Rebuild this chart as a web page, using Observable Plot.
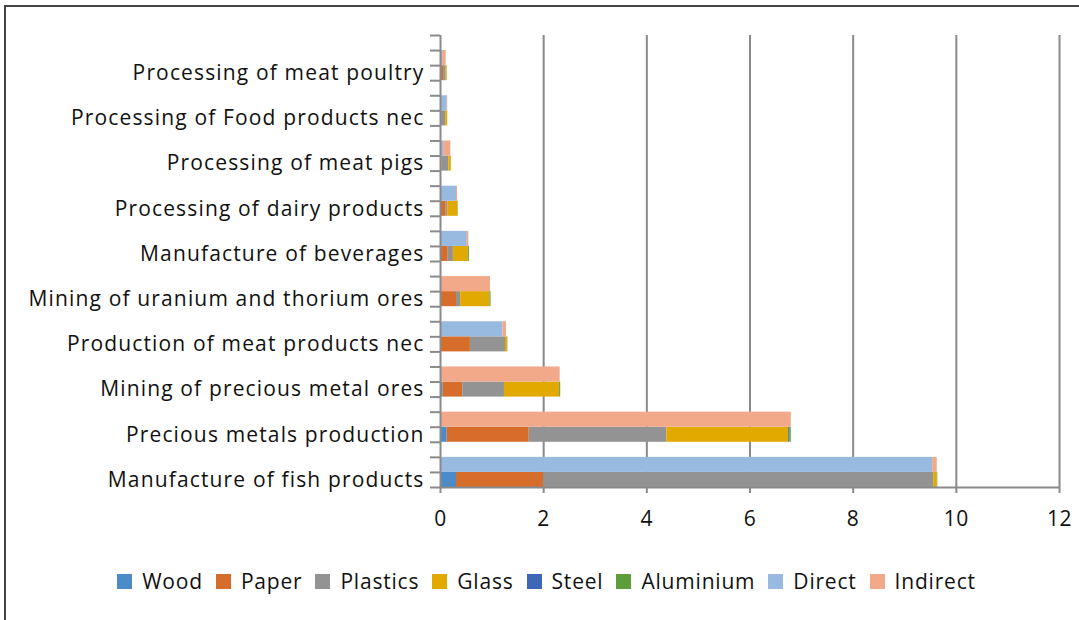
<!DOCTYPE html>
<html>
<head>
<meta charset="utf-8">
<script src="https://cdn.jsdelivr.net/npm/d3@7"></script>
<script src="https://cdn.jsdelivr.net/npm/@observablehq/plot@0.6"></script>
<style>
  html, body { margin: 0; padding: 0; background: #fff; }
  #frame { position: relative; width: 1079px; height: 620px; overflow: hidden; font-family: "Open Sans", Lato, sans-serif; }
  #border { position: absolute; left: 4px; top: 5px; width: 1100px; height: 700px; border-top: 2px solid #444; border-left: 2px solid #444; box-sizing: border-box; }
  #chart { position: absolute; left: 0; top: 0; }
  #chart g[aria-label="y-axis tick label"] text { letter-spacing: 1.15px; }
  #chart g[aria-label="x-axis tick label"] text { letter-spacing: 0.6px; }
  #legend { position: absolute; left: 0; width: 1079px; top: 567px; display: flex; justify-content: center; gap: 13px; font-size: 21px; letter-spacing: 0.8px; color: #111; padding-left: 14px; box-sizing: border-box; }
  #legend .item { display: flex; align-items: center; gap: 10px; }
  #legend .sw { width: 15px; height: 15px; display: inline-block; }
</style>
</head>
<body>
<div id="frame">
  <div id="border"></div>
  <div id="chart"></div>
  <div id="legend"></div>
</div>
<script>
// Industries, top to bottom
const industries = [
  "Processing of meat poultry",
  "Processing of Food products nec",
  "Processing of meat pigs",
  "Processing of dairy products",
  "Manufacture of beverages",
  "Mining of uranium and thorium ores",
  "Production of meat products nec",
  "Mining of precious metal ores",
  "Precious metals production",
  "Manufacture of fish products"
];
const materialSeries = ["Wood", "Paper", "Plastics", "Glass", "Steel", "Aluminium"];
const emissionSeries = ["Direct", "Indirect"];
const seriesColors = ["#4b8bc8", "#d66d2a", "#939393", "#e2aa00", "#3f67b8", "#5e9e3a", "#98b9e0", "#f1a98a"];

const wood      = [0.01, 0.00, 0.01, 0.01, 0.01, 0.00, 0.00, 0.05, 0.13, 0.31];
const paper     = [0.05, 0.01, 0.02, 0.10, 0.14, 0.31, 0.58, 0.38, 1.59, 1.69];
const plastics  = [0.05, 0.09, 0.13, 0.03, 0.10, 0.08, 0.68, 0.81, 2.67, 7.56];
const glass     = [0.02, 0.04, 0.05, 0.20, 0.29, 0.57, 0.04, 1.07, 2.36, 0.07];
const steel     = [0.00, 0.00, 0.00, 0.00, 0.00, 0.00, 0.00, 0.00, 0.02, 0.00];
const aluminium = [0.00, 0.00, 0.00, 0.005, 0.02, 0.02, 0.005, 0.02, 0.03, 0.01];
const direct    = [0.04, 0.13, 0.06, 0.31, 0.52, 0.00, 1.21, 0.00, 0.00, 9.54];
const indirect  = [0.07, 0.01, 0.14, 0.02, 0.03, 0.97, 0.07, 2.32, 6.80, 0.09];

const xTicks = [0, 2, 4, 6, 8, 10, 12];

const materialValues = [wood, paper, plastics, glass, steel, aluminium];
const emissionValues = [direct, indirect];
const allSeries = [...materialSeries, ...emissionSeries];

// Each industry takes three rows: materials (bottom), direct/indirect (middle), gap (top)
const n = industries.length;
const rows = [];
industries.forEach((name, i) => {
  const k = n - 1 - i; // 0 = bottom industry
  materialSeries.forEach((s, j) => rows.push({industry: name, series: s, value: materialValues[j][i], y1: 3 * k, y2: 3 * k + 1}));
  emissionSeries.forEach((s, j) => rows.push({industry: name, series: s, value: emissionValues[j][i], y1: 3 * k + 1, y2: 3 * k + 2}));
});
const labelPos = industries.map((name, i) => ({name, y: 3 * (n - 1 - i) + 0.5}));

const grid = "#8a8a8a";
const chart = Plot.plot({
  width: 1079,
  height: 545,
  marginLeft: 440,
  marginRight: 20,
  marginTop: 35,
  marginBottom: 58,
  style: {fontFamily: "'Open Sans', Lato, sans-serif", color: "#111", background: "transparent"},
  x: {domain: [0, 12], label: null},
  y: {domain: [0, 30], label: null},
  color: {domain: allSeries, range: seriesColors},
  marks: [
    Plot.ruleX(xTicks.filter(d => d > 0), {y1: 0, y2: 30, stroke: grid, strokeWidth: 2}),
    Plot.rectX(rows, {x: "value", y1: "y1", y2: "y2", fill: "series", order: allSeries}),
    Plot.ruleX([0], {y1: 0, y2: 30, stroke: grid, strokeWidth: 2}),
    Plot.ruleY([0], {x1: 0, x2: 12, stroke: grid, strokeWidth: 2}),
    Plot.axisX({ticks: xTicks, tickSize: 6, tickPadding: 18, fontSize: 21, stroke: grid, strokeWidth: 2, label: null, tickFormat: d => String(d)}),
    Plot.axisY({ticks: d3.range(0, 31), tickSize: 10, tickFormat: () => "", stroke: grid, strokeWidth: 2, label: null}),
    Plot.axisY({ticks: labelPos.map(d => d.y), tickSize: 0, tickPadding: 16, fontSize: 21, label: null,
      tickFormat: v => (labelPos.find(d => Math.abs(d.y - v) < 1e-6) || {}).name || ""})
  ]
});
document.getElementById("chart").appendChild(chart);

const legend = document.getElementById("legend");
allSeries.forEach((s, i) => {
  const it = document.createElement("div");
  it.className = "item";
  const sw = document.createElement("span");
  sw.className = "sw";
  sw.style.background = seriesColors[i];
  const t = document.createElement("span");
  t.textContent = s;
  it.appendChild(sw); it.appendChild(t);
  legend.appendChild(it);
});
</script>
</body>
</html>
